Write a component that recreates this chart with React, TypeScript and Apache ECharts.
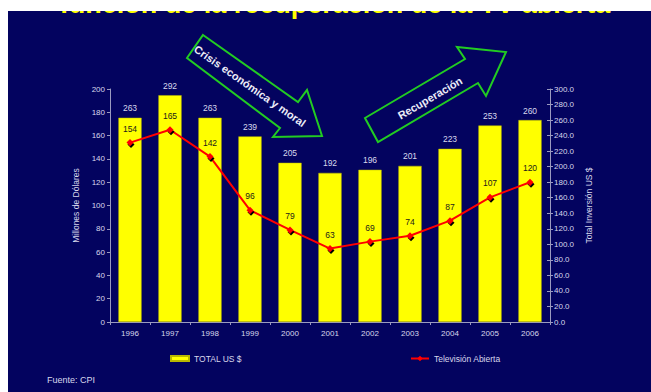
import React, { useEffect, useRef } from "react";
import * as echarts from "echarts";

const years = ["1996", "1997", "1998", "1999", "2000", "2001", "2002", "2003", "2004", "2005", "2006"];
const totalUS = [263, 292, 263, 239, 205, 192, 196, 201, 223, 253, 260];
const tvAbierta = [154, 165, 142, 96, 79, 63, 69, 74, 87, 107, 120];

const NAVY = "#03035f";
const FONT = "Liberation Sans, Arial, sans-serif";
const LIGHT = "#d8d8ec";
const AXIS = "#9a9ac0";

export default function App() {
  const ref = useRef<HTMLDivElement>(null);
  useEffect(() => {
    const chart = echarts.init(ref.current!, null, { renderer: "svg" });
    const green = "#22cc22";
    chart.setOption({
      animation: false,
      backgroundColor: NAVY,
      textStyle: { fontFamily: FONT },
      grid: { left: 102, top: 78, width: 440, height: 233 },
      legend: [
        {
          left: 162, top: 343, padding: 0, itemWidth: 18, itemHeight: 5, data: [{ name: "TOTAL US $", icon: "rect" }],
          textStyle: { color: LIGHT, fontSize: 8.5, fontFamily: FONT },
        },
        {
          left: 402, top: 343, padding: 0, itemWidth: 18, itemHeight: 7, data: ["Televisión Abierta"],
          textStyle: { color: LIGHT, fontSize: 8.5, fontFamily: FONT },
        },
      ],
      xAxis: {
        type: "category",
        data: years,
        axisLine: { lineStyle: { color: AXIS, width: 1 } },
        axisTick: { show: true, length: 3, lineStyle: { color: AXIS } },
        axisLabel: { color: LIGHT, fontSize: 8, margin: 7 },
      },
      yAxis: [
        {
          type: "value", min: 0, max: 200, interval: 20, position: "left",
          name: "Millones de Dólares", nameLocation: "middle", nameGap: 27,
          nameTextStyle: { color: LIGHT, fontSize: 8.5 },
          axisLine: { show: true, lineStyle: { color: AXIS } },
          axisTick: { show: true, length: 3, lineStyle: { color: AXIS } },
          axisLabel: { color: LIGHT, fontSize: 8, margin: 5 },
          splitLine: { show: false },
        },
        {
          type: "value", min: 0, max: 300, interval: 20, position: "right",
          name: "Total Inversión US $", nameLocation: "middle", nameGap: 32, nameRotate: 90,
          nameTextStyle: { color: LIGHT, fontSize: 8.5 },
          axisLine: { show: true, lineStyle: { color: AXIS } },
          axisTick: { show: true, length: 3, lineStyle: { color: AXIS } },
          axisLabel: { color: LIGHT, fontSize: 8, margin: 4, formatter: (v: number) => v.toFixed(1) },
          splitLine: { show: false },
        },
        {
          type: "value", min: 0, max: 300, interval: 20, position: "right",
          axisLine: { show: false },
          axisTick: { show: true, inside: true, length: 3, lineStyle: { color: AXIS } },
          axisLabel: { show: false },
          splitLine: { show: false },
        },
      ],
      series: [
        {
          name: "TOTAL US $",
          type: "bar",
          yAxisIndex: 1,
          data: totalUS,
          barWidth: "58%",
          itemStyle: { color: "#ffff00", borderColor: "#b8b800", borderWidth: 0.5 },
          label: { show: true, position: "top", distance: 5, color: LIGHT, fontSize: 8.5 },
          z: 2,
        },
        {
          name: "Televisión Abierta",
          type: "line",
          yAxisIndex: 0,
          data: tvAbierta,
          symbol: "diamond",
          symbolSize: 7,
          lineStyle: { color: "#ff0000", width: 2 },
          itemStyle: { color: "#ff0000", shadowColor: "#000", shadowOffsetX: 1, shadowOffsetY: 2, shadowBlur: 0 },
          label: { show: true, position: "top", distance: 6, color: "#1a1a1a", fontSize: 8.5 },
          z: 3,
        },
      ],
      graphic: [
        {
          type: "text", x: 327, y: -7, z: 10,
          style: {
            text: "función de la recuperación de la TV abierta",
            fill: "#ffff00", font: "bold 27px " + FONT, textAlign: "center", textVerticalAlign: "middle",
          },
        },
        {
          type: "polygon", z: 10,
          shape: { points: [[195, 24], [290, 91], [299, 79], [314, 125], [265, 126], [272, 117], [179, 47]] },
          style: { fill: "none", stroke: green, lineWidth: 2 },
        },
        {
          type: "text", x: 242, y: 75, rotation: -0.61, z: 11,
          style: {
            text: "Crisis económica y moral", fill: "#ececf8", font: "bold 11px " + FONT,
            textAlign: "center", textVerticalAlign: "middle",
          },
        },
        {
          type: "polygon", z: 10,
          shape: { points: [[357, 107], [457, 48], [449, 36], [498, 41], [478, 85], [470, 72], [370, 131]] },
          style: { fill: "none", stroke: green, lineWidth: 2 },
        },
        {
          type: "text", x: 422, y: 87, rotation: 0.53, z: 11,
          style: {
            text: "Recuperación", fill: "#ececf8", font: "bold 11px " + FONT,
            textAlign: "center", textVerticalAlign: "middle",
          },
        },
        {
          type: "text", x: 39, y: 369, z: 10,
          style: { text: "Fuente: CPI", fill: LIGHT, font: "9px " + FONT, textVerticalAlign: "middle" },
        },
      ],
    });
    return () => chart.dispose();
  }, []);
  return (
    <div
      ref={ref}
      style={{ position: "fixed", left: 8, top: 11, width: 643, height: 381, overflow: "hidden" }}
    />
  );
}
